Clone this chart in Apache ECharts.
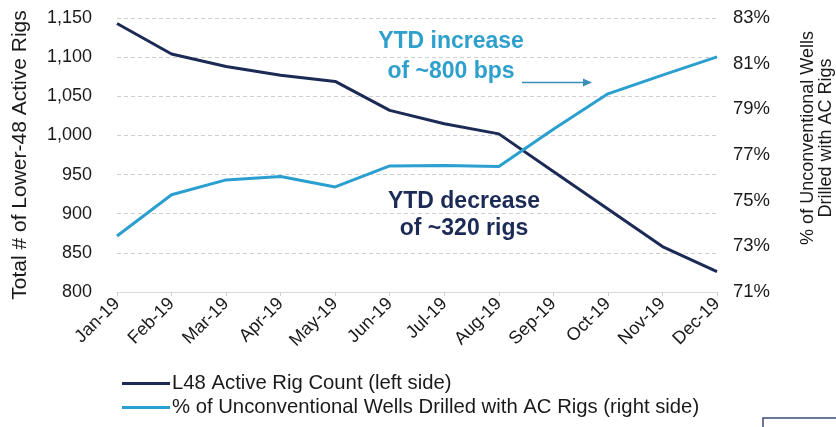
<!DOCTYPE html>
<html>
<head>
<meta charset="utf-8">
<script src="https://cdn.jsdelivr.net/npm/echarts@6/dist/echarts.min.js"></script>
<style>
  html, body { margin: 0; padding: 0; background: #fff; }
  #chart { width: 836px; height: 427px; }
</style>
</head>
<body>
<div id="chart"></div>
<script>
const months = ['Jan-19', 'Feb-19', 'Mar-19', 'Apr-19', 'May-19', 'Jun-19',
  'Jul-19', 'Aug-19', 'Sep-19', 'Oct-19', 'Nov-19', 'Dec-19']
// L48 active rig count (left axis)
const rigCount = [1143, 1104, 1088, 1077, 1069, 1032, 1015, 1002, 954, 906, 858, 826]
// % of unconventional wells drilled with AC rigs (right axis)
const acShare = [73.45, 75.26, 75.91, 76.06, 75.6, 76.52, 76.54, 76.5, 78.13, 79.68, 80.5, 81.3]

const navy = '#1c2a56'
const cyan = '#2a9fd0'
const font = 'Liberation Sans, Arial, sans-serif'
const ink = '#1a1a1a'

const chart = echarts.init(document.getElementById('chart'))

chart.setOption({
  animation: false,
  grid: { left: 117, right: 119, top: 18, bottom: 135, outerBoundsMode: 'none' },
  legend: {
    orient: 'vertical',
    left: 122,
    top: 373,
    padding: 0,
    itemWidth: 48,
    itemHeight: 3,
    itemGap: 3,
    icon: 'rect',
    textStyle: { fontFamily: font, fontSize: 20.3, color: ink, lineHeight: 21, padding: [0, 0, 0, -3] },
    data: ['L48 Active Rig Count (left side)',
      '% of Unconventional Wells Drilled with AC Rigs (right side)']
  },
  xAxis: {
    type: 'category',
    data: months,
    boundaryGap: false,
    axisLine: { lineStyle: { color: '#d9d9d9' } },
    axisTick: { show: true, length: 4, lineStyle: { color: '#d0d0d0' } },
    axisLabel: { rotate: 45, fontFamily: font, fontSize: 18, color: ink, margin: 9, interval: 0 }
  },
  yAxis: [
    {
      type: 'value',
      min: 800,
      max: 1150,
      interval: 50,
      name: 'Total # of Lower-48 Active Rigs',
      nameLocation: 'middle',
      nameGap: 86,
      nameRotate: 90,
      nameTextStyle: { fontFamily: font, fontSize: 21, color: ink },
      axisLine: { show: false },
      axisTick: { show: false },
      axisLabel: {
        fontFamily: font, fontSize: 18, color: ink, margin: 25,
        formatter: (v) => v.toLocaleString('en-US')
      },
      splitLine: { lineStyle: { color: '#cfcfcf', type: [4, 3] } }
    },
    {
      type: 'value',
      min: 71,
      max: 83,
      interval: 2,
      name: '% of Unconventional Wells\nDrilled with AC Rigs',
      nameLocation: 'middle',
      nameGap: 82,
      nameRotate: 90,
      nameTextStyle: { fontFamily: font, fontSize: 18, color: ink, lineHeight: 18, padding: [0, 0, 0, 34] },
      axisLine: { show: false },
      axisTick: { show: false },
      axisLabel: { fontFamily: font, fontSize: 18.5, color: ink, margin: 16, formatter: '{value}%' },
      splitLine: { show: false }
    }
  ],
  series: [
    {
      name: 'L48 Active Rig Count (left side)',
      type: 'line',
      yAxisIndex: 0,
      data: rigCount,
      showSymbol: false,
      lineStyle: { color: navy, width: 3 },
      itemStyle: { color: navy },
      z: 3
    },
    {
      name: '% of Unconventional Wells Drilled with AC Rigs (right side)',
      type: 'line',
      yAxisIndex: 1,
      data: acShare,
      showSymbol: false,
      lineStyle: { color: cyan, width: 3 },
      itemStyle: { color: cyan },
      z: 4
    }
  ],
  graphic: [
    {
      type: 'text', x: 451, y: 27,
      style: { text: 'YTD increase\nof ~800 bps', fill: '#2f9fcc', font: 'bold 23px ' + font,
        align: 'center', verticalAlign: 'top', lineHeight: 30 }
    },
    {
      type: 'line',
      shape: { x1: 522, y1: 82.5, x2: 584, y2: 82.5 },
      style: { stroke: '#3a8fb8', lineWidth: 1.5 }
    },
    {
      type: 'polygon',
      shape: { points: [[592, 82.5], [583, 78.5], [583, 86.5]] },
      style: { fill: '#3a8fb8' }
    },
    {
      type: 'text', x: 464, y: 188,
      style: { text: 'YTD decrease\nof ~320 rigs', fill: navy, font: 'bold 23px ' + font,
        align: 'center', verticalAlign: 'top', lineHeight: 27 }
    },
    {
      type: 'rect',
      shape: { x: 763, y: 418, width: 90, height: 30 },
      style: { fill: '#fff', stroke: '#3c4a78', lineWidth: 1.5 }
    }
  ]
})
</script>
</body>
</html>
